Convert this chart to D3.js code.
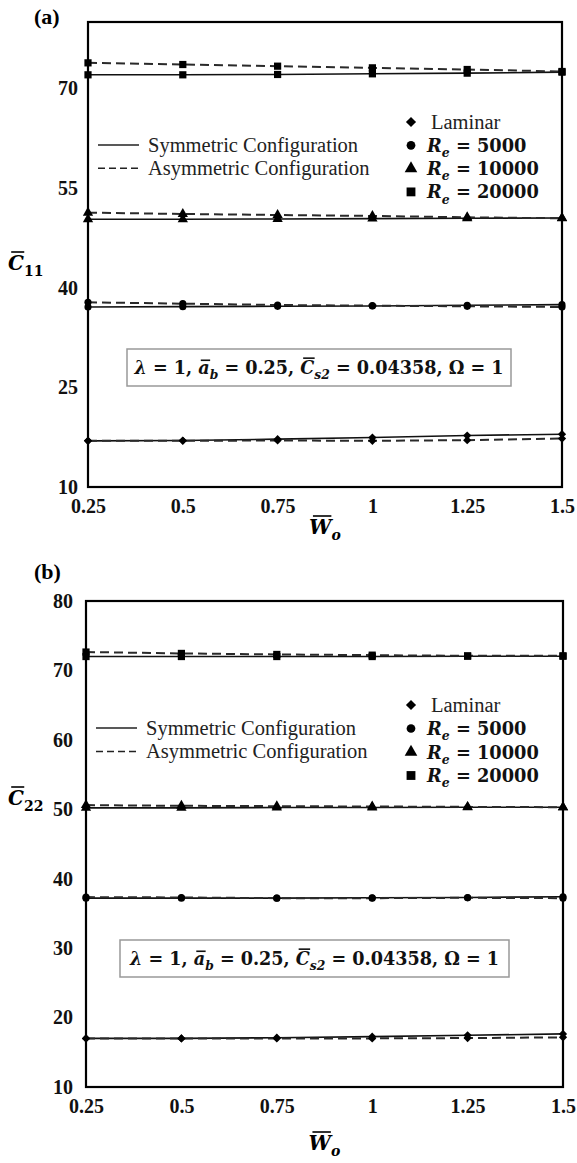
<!DOCTYPE html>
<html>
<head>
<meta charset="utf-8">
<script src="https://cdn.jsdelivr.net/npm/d3@7/dist/d3.min.js"></script>
<style>
  html, body { margin: 0; padding: 0; background: #fff; }
  svg { display: block; }
  text { font-family: "Liberation Serif", "Times New Roman", serif; }
  text.math { font-family: "DejaVu Serif", serif; }
</style>
</head>
<body>
<svg id="fig" width="577" height="1163" font-family="Liberation Serif, serif"></svg>
<script>
// Dimensionless width W̄o on the horizontal axis
const wo = [0.25, 0.5, 0.75, 1, 1.25, 1.5];

// (a) C̄11 — symmetric / asymmetric configurations
const c11LamSym   = [16.95, 17.0, 17.2, 17.45, 17.75, 17.95];
const c11LamAsym  = [16.95, 16.95, 17.0, 16.95, 17.05, 17.3];
const c11Re5Sym   = [37.1, 37.15, 37.2, 37.25, 37.35, 37.45];
const c11Re5Asym  = [37.8, 37.6, 37.4, 37.3, 37.2, 37.1];
const c11Re10Sym  = [50.3, 50.3, 50.35, 50.4, 50.45, 50.5];
const c11Re10Asym = [51.3, 51.1, 50.95, 50.8, 50.6, 50.45];
const c11Re20Sym  = [72.05, 72.05, 72.1, 72.2, 72.3, 72.45];
const c11Re20Asym = [73.85, 73.6, 73.35, 73.1, 72.85, 72.55];

// (b) C̄22 — symmetric / asymmetric configurations
const c22LamSym   = [17.0, 17.0, 17.1, 17.25, 17.45, 17.65];
const c22LamAsym  = [17.0, 17.0, 17.0, 17.0, 17.05, 17.15];
const c22Re5Sym   = [37.2, 37.2, 37.2, 37.25, 37.3, 37.4];
const c22Re5Asym  = [37.35, 37.3, 37.2, 37.2, 37.25, 37.2];
const c22Re10Sym  = [50.2, 50.2, 50.25, 50.25, 50.3, 50.3];
const c22Re10Asym = [50.6, 50.5, 50.45, 50.4, 50.35, 50.3];
const c22Re20Sym  = [72.0, 72.0, 72.0, 72.0, 72.05, 72.05];
const c22Re20Asym = [72.65, 72.45, 72.3, 72.2, 72.1, 72.1];

// Axis ticks
const xTicks  = [0.25, 0.5, 0.75, 1, 1.25, 1.5];
const yTicksA = [10, 25, 40, 55, 70];
const yTicksB = [10, 20, 30, 40, 50, 60, 70, 80];

// Legend entries
const flowRegimes = ["Laminar", "5000", "10000", "20000"];
const configNames = ["Symmetric Configuration", "Asymmetric Configuration"];

const svg = d3.select("#fig");
const NB = "\u00a0";

// Lays out a run of styled text pieces (italic, subscript, overbar) left to right.
function richText(parent, segs, x, y, opts = {}) {
  const size = opts.size || 20;
  const anchor = opts.anchor || "start";
  const fill = opts.fill || "#000";
  const cls = opts.math ? "math" : null;
  const g = parent.append("g");
  let cx = 0;
  segs.forEach(s => {
    const fs = s.sub ? size * 0.7 : size;
    const t = g.append("text")
      .attr("class", cls)
      .attr("x", cx)
      .attr("y", s.sub ? size * 0.3 : 0)
      .attr("font-size", fs)
      .attr("font-weight", s.normal ? "normal" : "bold")
      .attr("font-style", s.italic ? "italic" : "normal")
      .attr("fill", fill)
      .text(s.t.replace(/ /g, NB));
    const w = t.node().getComputedTextLength();
    if (s.over) {
      const oy = -size * (s.overY || 0.8);
      const sk = s.italic ? size * 0.08 : 0;
      g.append("line")
        .attr("x1", cx + w * 0.1 + sk)
        .attr("x2", cx + w * 0.92 + sk)
        .attr("y1", oy).attr("y2", oy)
        .attr("stroke", fill).attr("stroke-width", 1.6);
    }
    cx += w;
  });
  const shift = anchor === "middle" ? -cx / 2 : anchor === "end" ? -cx : 0;
  g.attr("transform", `translate(${x + shift},${y})`);
  return cx;
}

const markerShapes = [
  { type: d3.symbolSquare, size: 34, rotate: 45 }, // laminar (diamond)
  { type: d3.symbolCircle, size: 40, rotate: 0 },  // Re = 5000
  { type: d3.symbolTriangle, size: 46, rotate: 0 },// Re = 10000
  { type: d3.symbolSquare, size: 52, rotate: 0 }   // Re = 20000
];

function drawPanel(p) {
  const x = d3.scaleLinear().domain([0.25, 1.5]).range([p.left, p.right]);
  const y = d3.scaleLinear().domain([10, 80]).range([p.bottom, p.top]);
  const g = svg.append("g");

  // x axis labels
  const xa = g.append("g")
    .attr("transform", `translate(0,${p.bottom})`)
    .call(d3.axisBottom(x).tickValues(xTicks).tickSize(0).tickPadding(12)
      .tickFormat(d => String(d)));
  xa.attr("font-family", null);
  xa.select(".domain").remove();
  xa.selectAll("text").attr("font-size", 20).attr("font-weight", "bold").attr("fill", "#111");

  // y axis labels
  const ya = g.append("g")
    .attr("transform", `translate(${p.left},0)`)
    .call(d3.axisLeft(y).tickValues(p.yTicks).tickSize(0).tickPadding(p.yPad));
  ya.attr("font-family", null);
  ya.select(".domain").remove();
  ya.selectAll("text").attr("font-size", 20).attr("font-weight", "bold").attr("fill", "#111");

  // series
  const line = d3.line().x((d, i) => x(wo[i])).y(d => y(d));
  p.series.forEach(s => {
    g.append("path").datum(s.sym).attr("d", line)
      .attr("fill", "none").attr("stroke", "#111").attr("stroke-width", 1.6);
    g.append("path").datum(s.asym).attr("d", line)
      .attr("fill", "none").attr("stroke", "#2a2a2a").attr("stroke-width", 2)
      .attr("stroke-dasharray", "9,5");
  });
  p.series.forEach((s, k) => {
    const m = markerShapes[k];
    const sym = d3.symbol().type(m.type).size(m.size);
    [s.sym, s.asym].forEach(arr => {
      g.selectAll(null).data(arr).enter().append("path")
        .attr("d", sym)
        .attr("transform", (d, i) => `translate(${x(wo[i])},${y(d)}) rotate(${m.rotate})`)
        .attr("fill", "#000");
    });
  });

  // frame
  g.append("rect")
    .attr("x", p.left).attr("y", p.top)
    .attr("width", p.right - p.left).attr("height", p.bottom - p.top)
    .attr("fill", "none").attr("stroke", "#000").attr("stroke-width", 2.2);

  // panel tag
  g.append("text").attr("x", 34).attr("y", p.tagY)
    .attr("font-size", 22).attr("font-weight", "bold").text(p.tag);

  // axis titles
  richText(g, [{ t: "C", italic: true, over: true, overY: 0.9 }, { t: p.sub, sub: true }],
    8, p.yTitleY, { size: 20, math: true });
  richText(g, [{ t: "W", italic: true, over: true, overY: 0.9 }, { t: "o", sub: true, italic: true }],
    (p.left + p.right) / 2, p.xTitleY, { size: 20, anchor: "middle", math: true });

  // line-style legend
  configNames.forEach((name, i) => {
    const ly = p.lineLegY + i * p.legStep;
    g.append("line").attr("x1", p.left + 10).attr("x2", p.left + 51)
      .attr("y1", ly).attr("y2", ly)
      .attr("stroke", "#222").attr("stroke-width", 1.4)
      .attr("stroke-dasharray", i === 0 ? null : "7,4");
    g.append("text").attr("x", p.left + 60).attr("y", ly + 6.5)
      .attr("font-size", 20.5).attr("fill", "#222").text(name);
  });

  // marker legend
  flowRegimes.forEach((name, i) => {
    const ly = p.markLegY + i * p.legStep;
    const m = markerShapes[i];
    g.append("path")
      .attr("d", d3.symbol().type(m.type).size(m.size * 1.5))
      .attr("transform", `translate(411,${ly}) rotate(${m.rotate})`)
      .attr("fill", "#000");
    if (i === 0) {
      g.append("text").attr("x", 431).attr("y", ly + 6.5)
        .attr("font-size", 20.5).attr("fill", "#222").text(name);
    } else {
      richText(g, [{ t: "R", italic: true }, { t: "e", sub: true, italic: true }, { t: " = " + name }],
        427, ly + 6.5, { size: 17.8, math: true, fill: "#111" });
    }
  });

  // parameter box
  g.append("rect")
    .attr("x", p.boxX).attr("y", p.boxY).attr("width", p.boxW).attr("height", 37)
    .attr("fill", "#fff").attr("stroke", "#999").attr("stroke-width", 1.5);
  richText(g, [
    { t: "λ", italic: true }, { t: " = 1, " },
    { t: "a", italic: true, over: true, overY: 0.78 }, { t: "b", sub: true, italic: true },
    { t: " = 0.25, " },
    { t: "C", italic: true, over: true, overY: 0.9 }, { t: "s2", sub: true, italic: true },
    { t: " = 0.04358, " },
    { t: "Ω" }, { t: " = 1" }
  ], p.boxX + p.boxW / 2, p.boxY + 25, { size: 17.6, anchor: "middle", math: true, fill: "#111" });
}

drawPanel({
  tag: "(a)", tagY: 24, sub: "11",
  left: 88, right: 562, top: 22, bottom: 487, yPad: 10,
  yTicks: yTicksA, yTitleY: 270, xTitleY: 534,
  lineLegY: 145, markLegY: 122, legStep: 23.3,
  boxX: 127, boxY: 349, boxW: 384,
  series: [
    { sym: c11LamSym, asym: c11LamAsym },
    { sym: c11Re5Sym, asym: c11Re5Asym },
    { sym: c11Re10Sym, asym: c11Re10Asym },
    { sym: c11Re20Sym, asym: c11Re20Asym }
  ]
});

drawPanel({
  tag: "(b)", tagY: 579, sub: "22",
  left: 86, right: 563, top: 601, bottom: 1087, yPad: 13,
  yTicks: yTicksB, yTitleY: 805, xTitleY: 1150,
  lineLegY: 728, markLegY: 705, legStep: 23.5,
  boxX: 120, boxY: 940, boxW: 389,
  series: [
    { sym: c22LamSym, asym: c22LamAsym },
    { sym: c22Re5Sym, asym: c22Re5Asym },
    { sym: c22Re10Sym, asym: c22Re10Asym },
    { sym: c22Re20Sym, asym: c22Re20Asym }
  ]
});
</script>
</body>
</html>
